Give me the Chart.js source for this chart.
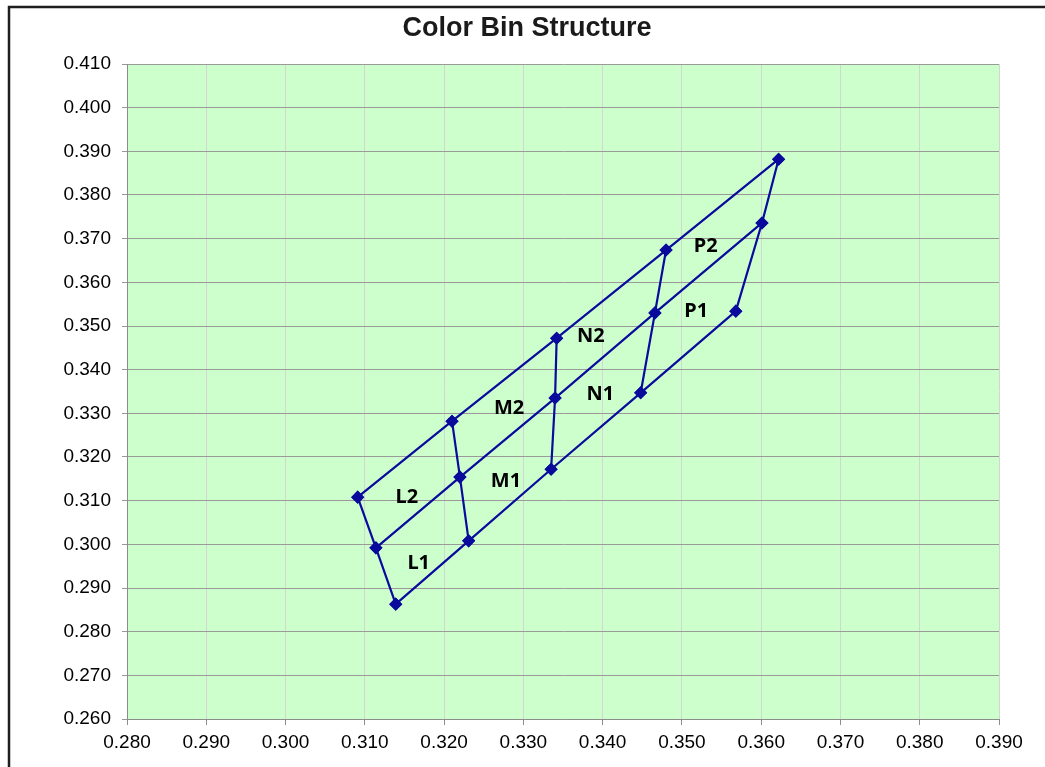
<!DOCTYPE html>
<html>
<head>
<meta charset="utf-8">
<script src="https://cdn.jsdelivr.net/npm/chart.js@4"></script>
<style>
    html, body { margin: 0; padding: 0; background: #ffffff; }
    #box { width: 1045px; height: 767px; }
</style>
</head>
<body>
<div id="box"><canvas id="grafico"></canvas></div>
<script>
// bin corner points (x, y chromaticity)
const upperX = [0.3091, 0.3210, 0.3342, 0.3480, 0.3622];
const upperY = [0.3108, 0.3282, 0.3472, 0.3674, 0.3882];
const middleX = [0.3114, 0.3220, 0.3340, 0.3466, 0.3601];
const middleY = [0.2992, 0.3154, 0.3335, 0.3530, 0.3736];
const lowerX = [0.3139, 0.3231, 0.3335, 0.3448, 0.3568];
const lowerY = [0.2863, 0.3008, 0.3172, 0.3347, 0.3534];

// bin names and where they sit
const binNames = ['L1', 'L2', 'M1', 'M2', 'N1', 'N2', 'P1', 'P2'];
const binX = [0.3168, 0.3153, 0.3278, 0.3282, 0.3397, 0.3385, 0.3518, 0.3530];
const binY = [0.2957, 0.3108, 0.3145, 0.3312, 0.3344, 0.3477, 0.3534, 0.3683];

const xTicks = [0.280, 0.290, 0.300, 0.310, 0.320, 0.330, 0.340, 0.350, 0.360, 0.370, 0.380, 0.390];
const yTicks = [0.260, 0.270, 0.280, 0.290, 0.300, 0.310, 0.320, 0.330, 0.340, 0.350, 0.360, 0.370, 0.380, 0.390, 0.400, 0.410];

const azul = '#0a0a9c';

function linha(xs, ys) {
    return {
        data: xs.map((x, i) => ({ x: x, y: ys[i] })),
        showLine: true,
        borderColor: azul,
        backgroundColor: azul,
        borderWidth: 2.2,
        pointStyle: 'rectRot',
        pointRadius: 5,
        pointHoverRadius: 5
    };
}

const datasets = [
    linha(upperX, upperY),
    linha(middleX, middleY),
    linha(lowerX, lowerY)
];
for (let i = 0; i < upperX.length; i++) {
    datasets.push(linha([upperX[i], middleX[i], lowerX[i]], [upperY[i], middleY[i], lowerY[i]]));
}

const fundo = {
    id: 'fundo',
    beforeDraw(chart) {
        const ctx = chart.ctx;
        const a = chart.chartArea;
        ctx.save();
        ctx.fillStyle = '#ffffff';
        ctx.fillRect(0, 0, chart.width, chart.height);
        ctx.strokeStyle = '#1e1e1e';
        ctx.lineWidth = 2.5;
        ctx.strokeRect(9, 7, chart.width + 20, chart.height + 20);
        ctx.fillStyle = '#ccffcc';
        ctx.fillRect(a.left, a.top, a.right - a.left, a.bottom - a.top);
        ctx.restore();
    }
};

const nomes = {
    id: 'nomes',
    afterDatasetsDraw(chart) {
        const ctx = chart.ctx;
        const sx = chart.scales.x;
        const sy = chart.scales.y;
        ctx.save();
        ctx.font = 'bold 20px "Noto Sans"';
        ctx.fillStyle = '#000000';
        ctx.textAlign = 'center';
        ctx.textBaseline = 'middle';
        binNames.forEach((n, i) => {
            ctx.fillText(n, sx.getPixelForValue(binX[i]), sy.getPixelForValue(binY[i]));
        });
        ctx.restore();
    }
};

const ctx = document.getElementById('grafico').getContext('2d');
new Chart(ctx, {
    type: 'scatter',
    data: { datasets: datasets },
    options: {
        responsive: true,
        maintainAspectRatio: false,
        animation: false,
        layout: { padding: { left: 9, right: 0, top: 0, bottom: 0 } },
        plugins: {
            legend: { display: false },
            tooltip: { enabled: false },
            title: {
                display: true,
                text: 'Color Bin Structure',
                color: '#1a1a1a',
                font: { family: '"Liberation Sans", Arial', size: 27, weight: 'bold' },
                padding: { top: 12.6, bottom: 19 }
            }
        },
        scales: {
            x: {
                type: 'linear',
                min: 0.28,
                max: 0.39,
                afterBuildTicks: function (axis) {
                    axis.ticks = xTicks.map(v => ({ value: v }));
                },
                afterFit: function (axis) { axis.height = 48; },
                ticks: {
                    color: '#000000',
                    font: { family: '"Liberation Sans", Arial', size: 19 },
                    padding: 6,
                    maxRotation: 0,
                    callback: v => v.toFixed(3)
                },
                grid: { color: '#d4d4d4', lineWidth: 1, tickLength: 6, tickColor: '#8c8c8c' },
                border: { color: '#8c8c8c', width: 1 }
            },
            y: {
                type: 'linear',
                min: 0.26,
                max: 0.41,
                afterBuildTicks: function (axis) {
                    axis.ticks = yTicks.map(v => ({ value: v }));
                },
                afterFit: function (axis) { axis.width = 118; },
                ticks: {
                    color: '#000000',
                    font: { family: '"Liberation Sans", Arial', size: 19 },
                    padding: 11,
                    callback: v => v.toFixed(3)
                },
                grid: { color: '#9a9a9a', lineWidth: 1, tickLength: 5, tickColor: '#9a9a9a' },
                border: { color: '#8c8c8c', width: 1 }
            },
            y2: {
                type: 'linear',
                position: 'right',
                display: true,
                afterFit: function (axis) { axis.width = 46; },
                ticks: { display: false },
                grid: { display: false, drawTicks: false },
                border: { display: false }
            }
        }
    },
    plugins: [fundo, nomes]
});
</script>
</body>
</html>
